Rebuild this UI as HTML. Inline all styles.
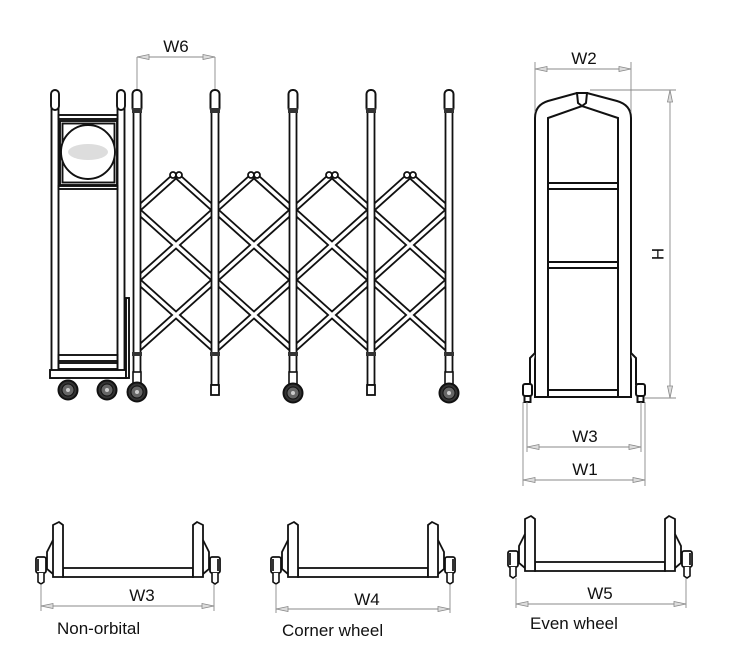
<!DOCTYPE html>
<html><head><meta charset="utf-8"><style>
html,body{margin:0;padding:0;background:#fff;}
svg{display:block;}
text{font-family:"Liberation Sans","DejaVu Sans",sans-serif;fill:#111;}
</style></head><body>
<svg width="730" height="669" viewBox="0 0 730 669" xmlns="http://www.w3.org/2000/svg">
<defs>
 <marker id="ae" markerWidth="14" markerHeight="8" refX="13" refY="4" orient="auto" markerUnits="userSpaceOnUse">
  <path d="M1,1.5 L13,4 L1,6.5 Z" fill="#ddd" stroke="#888" stroke-width="0.8"/>
 </marker>
 <marker id="as" markerWidth="14" markerHeight="8" refX="1" refY="4" orient="auto" markerUnits="userSpaceOnUse">
  <path d="M13,1.5 L1,4 L13,6.5 Z" fill="#ddd" stroke="#888" stroke-width="0.8"/>
 </marker>
 <g id="post">
  <rect x="-3.5" y="100" width="7" height="285" fill="#fff" stroke="#111" stroke-width="1.8"/>
  <rect x="-4.5" y="90" width="9" height="22" rx="4" fill="#fff" stroke="#111" stroke-width="2"/>
  <rect x="-5" y="108" width="10" height="5" fill="#333"/>
  <rect x="-5" y="352" width="10" height="4" fill="#333"/>
 </g>
 <g id="wheel">
  <circle r="9.5" fill="#333" stroke="#111" stroke-width="2"/>
  <circle r="6" fill="#666" stroke="#111" stroke-width="1"/>
  <circle r="2" fill="#ccc"/>
 </g>
 <g id="side">
  <path d="M0,3 L6,0 L10,3 L10,55 L0,55 Z" fill="#fff" stroke="#111" stroke-width="1.8"/>
  <path d="M0,18 L-3,24 L-6,30 L-6,47 L0,52" fill="none" stroke="#111" stroke-width="1.8"/>
  <rect x="-17" y="35" width="10" height="16" rx="2" fill="#fff" stroke="#111" stroke-width="1.8"/>
  <rect x="-17" y="37" width="3" height="12" fill="#333"/>
  <path d="M-15,51 L-15,60 L-12,62 L-9,60 L-9,51" fill="#fff" stroke="#111" stroke-width="1.6"/>
 </g>
 <g id="bview">
  <rect x="10" y="46" width="130" height="9" fill="#fff" stroke="#111" stroke-width="1.8"/>
  <use href="#side"/>
  <use href="#side" transform="translate(150,0) scale(-1,1)"/>
 </g>
</defs>

<g stroke="#888" stroke-width="0.9" fill="none">
 <line x1="137" y1="57" x2="137" y2="90"/>
 <line x1="215" y1="57" x2="215" y2="90"/>
 <line x1="137" y1="57" x2="215" y2="57" marker-start="url(#as)" marker-end="url(#ae)"/>
</g>
<text x="176" y="52" font-size="17" text-anchor="middle">W6</text>

<g stroke-linecap="butt">
 <g stroke="#111" stroke-width="7" fill="none">
  <path d="M137,280 L215,350 M137,210 L293,350 M176,175 L371,350 M254,175 L449,350 M332,175 L449,280 M410,175 L449,210
           M176,175 L137,210 M254,175 L137,280 M332,175 L137,350 M410,175 L215,350 M449,210 L293,350 M449,280 L371,350"/>
 </g>
 <g stroke="#fff" stroke-width="3.4" fill="none">
  <path d="M137,280 L215,350 M137,210 L293,350 M176,175 L371,350 M254,175 L449,350 M332,175 L449,280 M410,175 L449,210
           M176,175 L137,210 M254,175 L137,280 M332,175 L137,350 M410,175 L215,350 M449,210 L293,350 M449,280 L371,350"/>
 </g>
 <g fill="#fff" stroke="#111" stroke-width="1.8">
  <circle cx="173" cy="175" r="3"/><circle cx="179" cy="175" r="3"/>
  <circle cx="251" cy="175" r="3"/><circle cx="257" cy="175" r="3"/>
  <circle cx="329" cy="175" r="3"/><circle cx="335" cy="175" r="3"/>
  <circle cx="407" cy="175" r="3"/><circle cx="413" cy="175" r="3"/>
 </g>
</g>

<use href="#post" x="137"/>
<use href="#post" x="215"/>
<use href="#post" x="293"/>
<use href="#post" x="371"/>
<use href="#post" x="449"/>
<rect x="211" y="385" width="8" height="10" fill="#fff" stroke="#111" stroke-width="1.8"/>
<rect x="367" y="385" width="8" height="10" fill="#fff" stroke="#111" stroke-width="1.8"/>
<g fill="#fff" stroke="#111" stroke-width="1.6">
 <rect x="133" y="372" width="8" height="12"/><rect x="289" y="372" width="8" height="12"/><rect x="445" y="372" width="8" height="12"/>
</g>
<use href="#wheel" x="137" y="392"/>
<use href="#wheel" x="293" y="393"/>
<use href="#wheel" x="449" y="393"/>

<g fill="#fff" stroke="#111" stroke-width="1.9">
 <rect x="51.5" y="100" width="7" height="278"/>
 <rect x="117.5" y="100" width="7" height="278"/>
 <rect x="51" y="90" width="8" height="20" rx="4"/>
 <rect x="117" y="90" width="8" height="20" rx="4"/>
 <rect x="58.5" y="115" width="59" height="4"/>
 <rect x="60" y="121" width="57" height="64"/>
 <rect x="62.5" y="123.5" width="52" height="59"/>
 <circle cx="88" cy="152" r="27"/>
 <rect x="58.5" y="186" width="59" height="3"/>
 <rect x="58.5" y="355" width="59" height="6"/>
 <rect x="58.5" y="363" width="59" height="6"/>
 <rect x="50" y="370" width="76" height="8"/>
 <rect x="126" y="298" width="3" height="80"/>
</g>
<ellipse cx="88" cy="152" rx="20" ry="8" fill="#bbb" opacity="0.5"/>
<use href="#wheel" x="68" y="390"/>
<use href="#wheel" x="107" y="390"/>

<g fill="#fff" stroke="#111" stroke-width="2">
 <path d="M535,397 L535,118 Q535,105 548,101 L577,93 L587,93 L617,101 Q631,105 631,118 L631,397 Z"/>
 <path d="M548,397 L548,118 L582,106 L618,118 L618,397 Z"/>
 <path d="M577,93 L587,93 L586,103 L582,106 L578,103 Z" fill="#fff"/>
 <rect x="548" y="183" width="70" height="6"/>
 <rect x="548" y="262" width="70" height="6"/>
 <rect x="548" y="390" width="70" height="7"/>
 <path d="M535,353 L530,358 L530,385"/>
 <path d="M631,353 L636,358 L636,385"/>
 <rect x="523" y="384" width="9" height="12" rx="2"/>
 <rect x="524.5" y="396" width="6" height="6"/>
 <rect x="636" y="384" width="9" height="12" rx="2"/>
 <rect x="637.5" y="396" width="6" height="6"/>
</g>
<g stroke="#888" stroke-width="0.9" fill="none">
 <line x1="535" y1="62" x2="535" y2="112"/>
 <line x1="631" y1="62" x2="631" y2="112"/>
 <line x1="535" y1="69" x2="631" y2="69" marker-start="url(#as)" marker-end="url(#ae)"/>
 <line x1="590" y1="90" x2="676" y2="90"/>
 <line x1="645" y1="398" x2="676" y2="398"/>
 <line x1="670" y1="90" x2="670" y2="398" marker-start="url(#as)" marker-end="url(#ae)"/>
 <line x1="523" y1="402" x2="523" y2="486"/>
 <line x1="645" y1="402" x2="645" y2="486"/>
 <line x1="527" y1="402" x2="527" y2="452"/>
 <line x1="641" y1="402" x2="641" y2="452"/>
 <line x1="527" y1="447" x2="641" y2="447" marker-start="url(#as)" marker-end="url(#ae)"/>
 <line x1="523" y1="480" x2="645" y2="480" marker-start="url(#as)" marker-end="url(#ae)"/>
</g>
<text x="584" y="64" font-size="17" text-anchor="middle">W2</text>
<text x="0" y="0" font-size="17" text-anchor="middle" transform="translate(652,254) rotate(90)">H</text>
<text x="585" y="442" font-size="17" text-anchor="middle">W3</text>
<text x="585" y="475" font-size="17" text-anchor="middle">W1</text>

<use href="#bview" transform="translate(53,522)"/>
<use href="#bview" transform="translate(288,522)"/>
<use href="#bview" transform="translate(525,516)"/>
<g stroke="#888" stroke-width="0.9" fill="none">
 <line x1="41" y1="584" x2="41" y2="611"/><line x1="214" y1="584" x2="214" y2="611"/>
 <line x1="41" y1="606" x2="214" y2="606" marker-start="url(#as)" marker-end="url(#ae)"/>
 <line x1="276" y1="584" x2="276" y2="613"/><line x1="450" y1="584" x2="450" y2="613"/>
 <line x1="276" y1="609" x2="450" y2="609" marker-start="url(#as)" marker-end="url(#ae)"/>
 <line x1="516" y1="578" x2="516" y2="608"/><line x1="686" y1="578" x2="686" y2="608"/>
 <line x1="516" y1="604" x2="686" y2="604" marker-start="url(#as)" marker-end="url(#ae)"/>
</g>
<text x="142" y="601" font-size="17" text-anchor="middle">W3</text>
<text x="367" y="605" font-size="17" text-anchor="middle">W4</text>
<text x="600" y="599" font-size="17" text-anchor="middle">W5</text>
<text x="57" y="634" font-size="17">Non-orbital</text>
<text x="282" y="636" font-size="17">Corner wheel</text>
<text x="530" y="629" font-size="17">Even wheel</text>
</svg>
</body></html>
